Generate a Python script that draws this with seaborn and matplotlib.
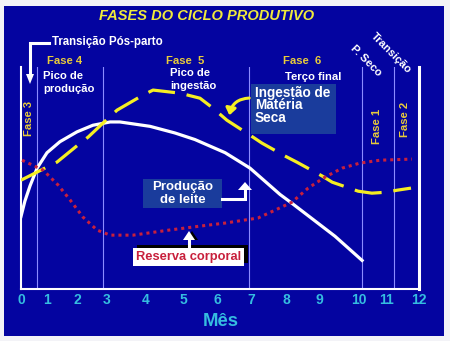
import numpy as np
import matplotlib
matplotlib.use("Agg")
import matplotlib.pyplot as plt
from matplotlib.patches import Rectangle, Polygon, FancyArrowPatch
from matplotlib.lines import Line2D
import seaborn as sns

# ---------------- data ----------------
meses = list(range(13))
mes_labels = [str(m) for m in meses]

# Produção de leite (white solid)
leite_mes = [0.0, 0.15, 0.35, 0.62, 1.0, 1.43, 2.0, 2.53, 3.08, 3.33, 4.11, 4.78,
             5.35, 6.24, 6.97, 7.83, 8.18, 9.4, 10.11]
leite_val = [33, 40, 47, 55, 62, 67, 71.5, 74.5, 76, 76, 74, 71,
             68, 62, 55, 43, 39, 24, 13]

# Ingestão de Matéria Seca (yellow dashed)
ims_mes = [0.0, 0.92, 1.33, 2.03, 2.37, 3.03, 3.26, 3.92, 4.19, 4.92, 5.5, 5.88,
           6.29, 6.97, 7.31, 7.97, 8.33, 9.08, 9.33, 9.98, 10.46, 10.93, 11.34, 11.75]
ims_val = [49.5, 55, 57.7, 65.5, 69.1, 77.7, 81.4, 88.2, 90.5, 89.1, 86.8, 82.3,
           76.8, 70, 66.4, 60.5, 57.7, 51.4, 48.6, 44.5, 43.6, 44, 45, 45.9]

# Reserva corporal (red dotted)
reserva_mes = [0.04, 0.85, 1.37, 1.77, 2.2, 2.67, 3.08, 3.67, 4.62, 5.5, 6.24, 7.2,
               7.69, 8.18, 8.67, 9.15, 9.58, 10.04, 10.75, 11.78]
reserva_val = [58.6, 54.1, 47.3, 40.5, 32.7, 26.8, 24.5, 24.5, 26.8, 28.6, 30, 32.3,
               35.9, 39.5, 45.9, 50.9, 55, 57.3, 58.6, 59.1]

# phase boundaries (months)
fases_mes = [0.62, 2.88, 6.94, 10.1, 11.22]

# ---------------- layout / style ----------------
W, H = 450, 341
TICK_PX = [21, 47, 77, 107, 146, 183, 217, 251, 286, 319, 359, 387, 419]
BLUE = "#0404a0"
BOX = "#1a3c9c"
YEL = "#f5ee22"
YEL_T = "#e9cc3a"
TITLE_Y = "#f0ea3c"
RED = "#c8203c"
CYAN = "#35bde0"
FONT = ["Liberation Sans", "DejaVu Sans"]
plt.rcParams["font.family"] = FONT


def P(x, y):
    return (x / W, 1 - y / H)


fig = plt.figure(figsize=(W / 100, H / 100), dpi=100, facecolor="#f3f3f7")
fig.add_artist(Rectangle(P(4, 336), 440 / W, 330 / H, transform=fig.transFigure,
                         facecolor=BLUE, edgecolor="none", zorder=-5))

ax = fig.add_axes([21 / W, 52 / H, 398 / W, 222 / H])
ax.set_facecolor("none")
fwd = lambda m: np.interp(m, meses, TICK_PX)
inv = lambda p: np.interp(p, TICK_PX, meses)
ax.set_xscale("function", functions=(fwd, inv))
ax.set_xlim(0, 12)
ax.set_ylim(0, 101)

for m in fases_mes:
    ax.axvline(m, color="#8c8cff", lw=0.8, zorder=1)

sns.lineplot(x=leite_mes, y=leite_val, ax=ax, color="white", lw=2.3, sort=False,
             errorbar=None, zorder=3)
sns.lineplot(x=ims_mes, y=ims_val, ax=ax, color=YEL, lw=2.3, sort=False,
             errorbar=None, linestyle=(0, (8.5, 3.7)), zorder=4)
sns.lineplot(x=reserva_mes, y=reserva_val, ax=ax, color=RED, lw=2.2, sort=False,
             errorbar=None, linestyle=(0, (1, 1.3)), zorder=5)

for s in ["left", "bottom", "right"]:
    ax.spines[s].set_color("white")
ax.spines["left"].set_linewidth(1.5)
ax.spines["bottom"].set_linewidth(1.5)
ax.spines["right"].set_linewidth(2.2)
ax.spines["top"].set_visible(False)
ax.set_yticks([])
ax.set_xticks(meses)
ax.set_xticklabels(mes_labels, fontsize=10, fontweight="bold", color=CYAN)
ax.tick_params(axis="x", length=0, pad=3)
ax.set_xlabel("")
ax.set_ylabel("")


def T(x, y, s, **kw):
    base = dict(color="white", fontsize=8.1, fontweight="bold", va="center", ha="left")
    base.update(kw)
    return fig.text(*P(x, y), s, **base)


# title
T(207, 16, "FASES DO CICLO PRODUTIVO", color=TITLE_Y, fontsize=10.5,
  fontstyle="italic", ha="center")
T(221, 321, "Mês", color=CYAN, fontsize=13.3, ha="center")

# phase labels
T(52, 42, "Transição Pós-parto", fontsize=8.3)
T(47, 61.5, "Fase 4", color=YEL_T)
T(43, 76, "Pico de")
T(43, 89.5, "produção")
T(29, 118, "Fase 3", color=YEL_T, rotation=90, ha="center")
T(166, 61.5, "Fase  5", color=YEL_T)
T(170, 73.5, "Pico de")
T(170, 86, "ingestão")
T(283, 61.5, "Fase  6", color=YEL_T)
T(285, 77, "Terço final")
T(377, 126, "Fase 1", color=YEL_T, rotation=90, ha="center")
T(405, 119, "Fase 2", color=YEL_T, rotation=90, ha="center")
T(366, 61, "P. Seco", rotation=-45, ha="center")
T(391, 53, "Transição", rotation=-45, ha="center")

# Transição Pós-parto arrow
fig.add_artist(Line2D([P(49, 43)[0], P(30, 43)[0], P(30, 43)[0]],
                      [P(49, 43)[1], P(30, 43)[1], P(30, 75)[1]],
                      transform=fig.transFigure, color="white", lw=2.2,
                      solid_joinstyle="miter"))
fig.add_artist(Polygon([P(26, 74), P(34, 74), P(30, 84)], closed=True,
                       transform=fig.transFigure, facecolor="white", edgecolor="none"))

# Ingestão de Matéria Seca box
fig.add_artist(Rectangle(P(251, 134), 85 / W, 50 / H, transform=fig.transFigure,
                         facecolor=BOX, edgecolor="none", zorder=6))
T(255, 92.5, "Ingestão de", fontsize=9.8, zorder=7)
T(255, 105, "Matéria", fontsize=9.8, zorder=7)
T(255, 117.5, "Seca", fontsize=9.8, zorder=7)
fig.add_artist(FancyArrowPatch(P(252, 98), P(229, 118), transform=fig.transFigure,
                               connectionstyle="arc3,rad=0.45", arrowstyle="-|>,head_length=4,head_width=3",
                               color=YEL, lw=2.2, zorder=7))

# Produção de leite box and arrow
fig.add_artist(Rectangle(P(143, 208), 79 / W, 29 / H, transform=fig.transFigure,
                         facecolor=BOX, edgecolor="none", zorder=6))
T(182.5, 187, "Produção", fontsize=9.5, ha="center", zorder=7)
T(182.5, 200, "de leite", fontsize=9.5, ha="center", zorder=7)
fig.add_artist(Line2D([P(222, 199)[0], P(245, 199)[0], P(245, 199)[0]],
                      [P(222, 199)[1], P(245, 199)[1], P(245, 189)[1]],
                      transform=fig.transFigure, color="white", lw=2.2,
                      solid_joinstyle="miter", zorder=7))
fig.add_artist(Polygon([P(238, 190), P(252, 190), P(245, 182)], closed=True,
                       transform=fig.transFigure, facecolor="white", edgecolor="none", zorder=7))

# Reserva corporal box and arrow
fig.add_artist(Polygon([P(186, 240), P(198, 240), P(192, 231)], closed=True,
                       transform=fig.transFigure, facecolor="black", edgecolor="none", zorder=6))
fig.add_artist(Polygon([P(183, 240), P(195, 240), P(189, 231)], closed=True,
                       transform=fig.transFigure, facecolor="white", edgecolor="none", zorder=7))
fig.add_artist(Line2D([P(189, 239)[0], P(189, 249)[0]], [P(189, 239)[1], P(189, 249)[1]],
                      transform=fig.transFigure, color="white", lw=2.2, zorder=7))
fig.add_artist(Rectangle(P(137, 263), 111 / W, 18 / H, transform=fig.transFigure,
                         facecolor="black", edgecolor="none", zorder=6))
fig.add_artist(Rectangle(P(133, 266), 111 / W, 18 / H, transform=fig.transFigure,
                         facecolor="white", edgecolor="none", zorder=7))
T(188.5, 257, "Reserva corporal", color=RED, fontsize=9.3, ha="center", zorder=8)

fig.savefig("out.png", dpi=100, facecolor=fig.get_facecolor())
